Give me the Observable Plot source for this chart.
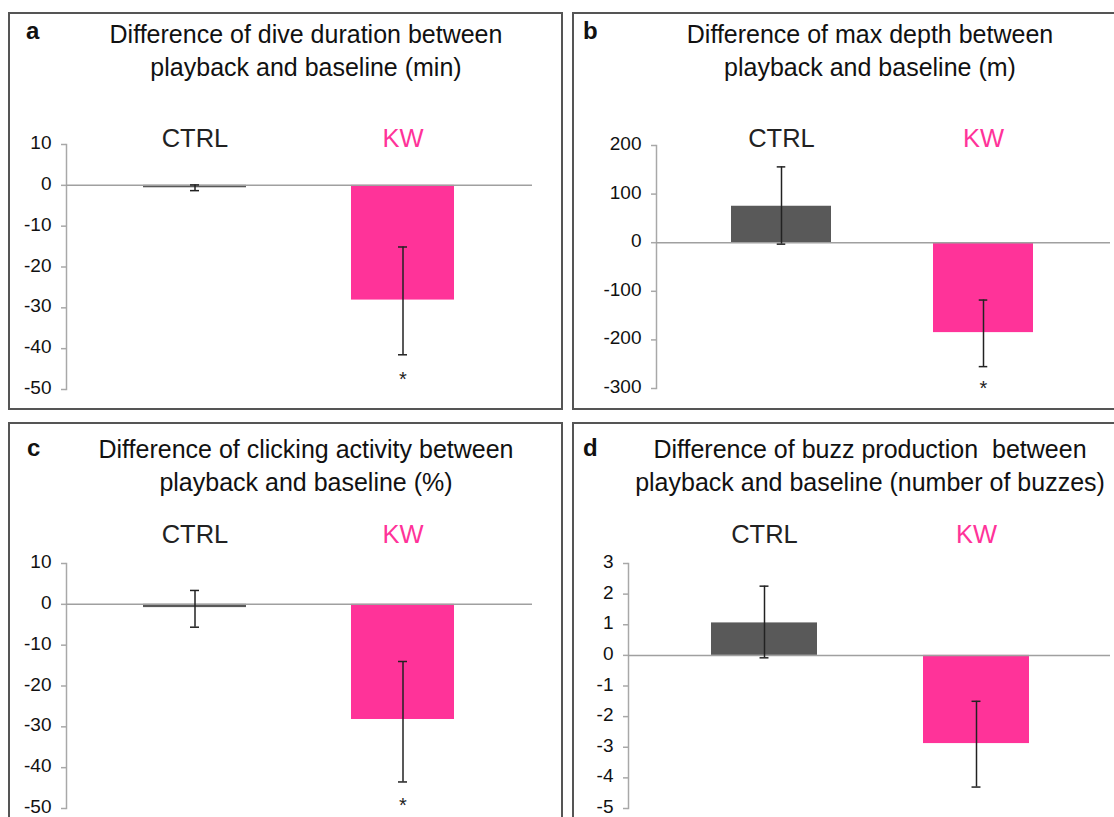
<!DOCTYPE html>
<html><head><meta charset="utf-8">
<script src="https://cdn.jsdelivr.net/npm/d3@7"></script>
<script src="https://cdn.jsdelivr.net/npm/@observablehq/plot@0.6"></script>
<style>
body{margin:0;background:#fff;overflow:hidden;font-family:"Liberation Sans",Arial,sans-serif}
#page{position:relative;width:1114px;height:817px;overflow:hidden;background:#fff}
.box{position:absolute;border:2px solid #555;box-sizing:border-box}
.letter{position:absolute;font-weight:bold;font-size:24px;line-height:1;color:#111}
.title{position:absolute;width:620px;text-align:center;font-size:25px;line-height:33px;color:#111;white-space:pre}
.plot{position:absolute}
.plot g[aria-label="y-axis tick label"] text{font-size:19px}
</style></head><body><div id="page"></div>
<script>
// ---- data ----
const categories = ["CTRL", "KW"];
const labelColors = ["#222222", "#FF3399"];
const barColors = ["#595959", "#FF3399"];

const durationMean = [-0.6, -28.1];
const durationLow  = [-1.3, -41.5];
const durationHigh = [0.1, -15.1];
const durationStar = ["", "*"];
const durationTicks = [10, 0, -10, -20, -30, -40, -50];

const depthMean = [75, -185];
const depthLow  = [-3, -255];
const depthHigh = [156, -118];
const depthStar = ["", "*"];
const depthTicks = [200, 100, 0, -100, -200, -300];

const clickMean = [-0.8, -28.2];
const clickLow  = [-5.6, -43.5];
const clickHigh = [3.4, -14.0];
const clickStar = ["", "*"];
const clickTicks = [10, 0, -10, -20, -30, -40, -50];

const buzzMean = [1.06, -2.88];
const buzzLow  = [-0.08, -4.3];
const buzzHigh = [2.26, -1.5];
const buzzStar = ["", ""];
const buzzTicks = [3, 2, 1, 0, -1, -2, -3, -4, -5];

const titles = [
  "Difference of dive duration between\nplayback and baseline (min)",
  "Difference of max depth between\nplayback and baseline (m)",
  "Difference of clicking activity between\nplayback and baseline (%)",
  "Difference of buzz production  between\nplayback and baseline (number of buzzes)"
];
const letters = ["a", "b", "c", "d"];

function rows(mean, low, high, star) {
  return categories.map((c, i) => ({cat: c, mean: mean[i], low: low[i], high: high[i], star: star[i],
    label: labelColors[i], bar: barColors[i]}));
}

// ---- layout ----
const panels = [
  {letter: letters[0], title: titles[0], data: rows(durationMean, durationLow, durationHigh, durationStar), ticks: durationTicks,
   box: [8, 12, 555, 398], titleTop: 18, letterPos: [26, 19],
   svg: {left: 8, top: 100, width: 555, height: 309, mt: 44, mb: 20, ml: 58, mr: 31}, xr: [135, 446], pi: 0.505, lab: -6, star: 25},
  {letter: letters[1], title: titles[1], data: rows(depthMean, depthLow, depthHigh, depthStar), ticks: depthTicks,
   box: [572, 12, 560, 398], titleTop: 18, letterPos: [583, 19],
   svg: {left: 572, top: 100, width: 542, height: 308, mt: 45, mb: 20, ml: 84, mr: 4}, xr: [159, 462], pi: 0.504, lab: -7, star: 22},
  {letter: letters[2], title: titles[2], data: rows(clickMean, clickLow, clickHigh, clickStar), ticks: clickTicks,
   box: [8, 422, 555, 420], titleTop: 433, letterPos: [27, 436],
   svg: {left: 8, top: 510, width: 555, height: 307, mt: 53, mb: 9, ml: 58, mr: 31}, xr: [135, 446], pi: 0.505, lab: -29, star: 24},
  {letter: letters[3], title: titles[3], data: rows(buzzMean, buzzLow, buzzHigh, buzzStar), ticks: buzzTicks,
   box: [572, 422, 560, 420], titleTop: 433, letterPos: [583, 436],
   svg: {left: 572, top: 510, width: 542, height: 307, mt: 53, mb: 9, ml: 56, mr: 4}, xr: [138, 457], pi: 0.502, lab: -29, star: 24}
];

const page = document.getElementById("page");
const capWidth = 9;

for (const p of panels) {
  const box = document.createElement("div");
  box.className = "box";
  Object.assign(box.style, {left: p.box[0] + "px", top: p.box[1] + "px", width: p.box[2] + "px", height: p.box[3] + "px"});
  page.appendChild(box);

  const letter = document.createElement("div");
  letter.className = "letter";
  letter.textContent = p.letter;
  Object.assign(letter.style, {left: p.letterPos[0] + "px", top: p.letterPos[1] + "px"});
  page.appendChild(letter);

  const title = document.createElement("div");
  title.className = "title";
  title.textContent = p.title;
  Object.assign(title.style, {left: (p.box[0] + 298 - 310) + "px", top: p.titleTop + "px"});
  page.appendChild(title);

  const s = p.svg;
  const step = (p.xr[1] - p.xr[0]) / (2 - p.pi);
  const bw = step * (1 - p.pi);
  const inset = (bw - capWidth) / 2;
  const yMax = d3.max(p.ticks), yMin = d3.min(p.ticks);

  const chart = Plot.plot({
    width: s.width, height: s.height,
    marginTop: s.mt, marginBottom: s.mb, marginLeft: s.ml, marginRight: s.mr,
    style: {background: "transparent", fontFamily: "'Liberation Sans', Arial, sans-serif", fontSize: "19px", color: "#222", overflow: "visible"},
    x: {domain: categories, range: p.xr, paddingInner: p.pi, paddingOuter: 0, axis: null},
    y: {domain: [yMin, yMax], axis: null},
    color: {type: "identity"},
    marks: [
      Plot.frame({anchor: "left", stroke: "#a8a8a8", strokeWidth: 1.5}),
      Plot.axisY({ticks: p.ticks, tickSize: 5, text: null, stroke: "#a8a8a8", strokeWidth: 1.5}),
      Plot.axisY({ticks: p.ticks, tickSize: 0, tickPadding: 15, dy: -1.5, fill: "#111", fontSize: 19, tickFormat: d => String(d)}),
      Plot.barY(p.data, {x: "cat", y: "mean", fill: "bar"}),
      Plot.ruleY([0], {stroke: "#a0a0a0", strokeWidth: 1.5}),
      Plot.ruleX(p.data, {x: "cat", y1: "low", y2: "high", stroke: "#222", strokeWidth: 1.5}),
      Plot.tickY(p.data, {x: "cat", y: "low", stroke: "#222", strokeWidth: 1.5, insetLeft: inset, insetRight: inset}),
      Plot.tickY(p.data, {x: "cat", y: "high", stroke: "#222", strokeWidth: 1.5, insetLeft: inset, insetRight: inset}),
      Plot.text(p.data, {x: "cat", y: "low", text: "star", dy: p.star, fontSize: 20, fill: "#222"}),
      Plot.text(p.data, {x: "cat", text: "cat", frameAnchor: "top", lineAnchor: "middle", dy: p.lab, fontSize: 25.5, fill: "label"})
    ]
  });
  chart.classList.add("plot");
  Object.assign(chart.style, {left: s.left + "px", top: s.top + "px"});
  page.appendChild(chart);
}
</script>
</body></html>
